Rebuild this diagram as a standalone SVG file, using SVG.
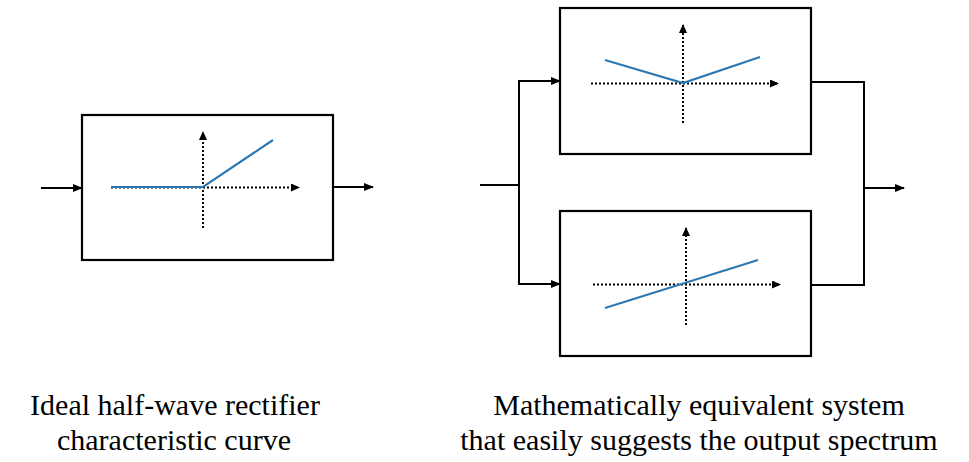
<svg xmlns="http://www.w3.org/2000/svg" width="969" height="462" viewBox="0 0 969 462">
<defs>
<marker id="ah" markerWidth="10" markerHeight="8" refX="9" refY="4" orient="auto" markerUnits="userSpaceOnUse">
<path d="M0,0 L10,4 L0,8 Z" fill="#000"/>
</marker>
<marker id="ahs" markerWidth="9" markerHeight="8" refX="8" refY="4" orient="auto" markerUnits="userSpaceOnUse">
<path d="M0,0 L9,4 L0,8 Z" fill="#000"/>
</marker>
</defs>
<style>
.box{fill:#fff;stroke:#000;stroke-width:2.2}
.wire{fill:none;stroke:#000;stroke-width:2}
.axis{fill:none;stroke:#000;stroke-width:2;stroke-dasharray:2 2}
.curve{fill:none;stroke:#2e78b2;stroke-width:2.2}
.lbl{font-family:"Liberation Serif","Times New Roman",serif;font-size:30px;fill:#000;text-anchor:middle}
</style>
<g id="connectors">
<line class="wire" x1="41" y1="188" x2="82" y2="188" marker-end="url(#ah)"/>
<line class="wire" x1="333" y1="187" x2="373" y2="187" marker-end="url(#ah)"/>
<line class="wire" x1="480" y1="185" x2="519" y2="185"/>
<path class="wire" d="M560,81 H519 V284 H560"/>
<line class="wire" x1="519" y1="81" x2="560" y2="81" marker-end="url(#ah)"/>
<line class="wire" x1="519" y1="284" x2="560" y2="284" marker-end="url(#ah)"/>
<path class="wire" d="M811,82 H864 V285 H811"/>
<line class="wire" x1="864" y1="188" x2="904" y2="188" marker-end="url(#ah)"/>
</g>
<g id="rectifier">
<rect class="box" x="82" y="115" width="251" height="145"/>
<line class="axis" x1="203" y1="228" x2="203" y2="132" marker-end="url(#ahs)"/>
<line class="axis" x1="111" y1="187.5" x2="299" y2="187.5" marker-end="url(#ahs)"/>
<polyline class="curve" points="111,187 203,187 273,140"/>
</g>
<g id="abs-branch">
<rect class="box" x="560" y="8" width="251" height="146"/>
<line class="axis" x1="683" y1="123" x2="683" y2="25" marker-end="url(#ahs)"/>
<line class="axis" x1="591" y1="83.5" x2="778" y2="83.5" marker-end="url(#ahs)"/>
<polyline class="curve" points="605,60 683,83 760,57"/>
</g>
<g id="linear-branch">
<rect class="box" x="560" y="211" width="251" height="145"/>
<line class="axis" x1="686" y1="325" x2="686" y2="228" marker-end="url(#ahs)"/>
<line class="axis" x1="593" y1="284.5" x2="780" y2="284.5" marker-end="url(#ahs)"/>
<line class="curve" x1="605" y1="308" x2="758" y2="260"/>
</g>
<g id="captions">
<text class="lbl" x="175" y="415">Ideal half-wave rectifier</text>
<text class="lbl" x="174" y="450">characteristic curve</text>
<text class="lbl" x="699" y="415">Mathematically equivalent system</text>
<text class="lbl" x="699" y="450">that easily suggests the output spectrum</text>
</g>
</svg>
